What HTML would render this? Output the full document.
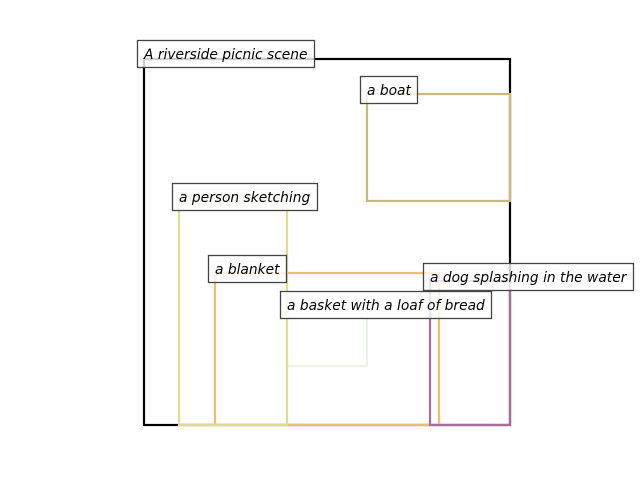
<!DOCTYPE html>
<html><head><style>body{margin:0;background:#fff}svg{display:block}text{font-family:"DejaVu Sans","Liberation Sans",sans-serif;font-style:italic;font-size:13.8px;fill:#000}</style></head>
<body>
<svg width="640" height="480" viewBox="0 0 640 480" xmlns="http://www.w3.org/2000/svg">
<g fill="none" stroke-width="2.2">
<rect x="144" y="59" width="366" height="366" stroke="#000"/>
<rect x="367" y="94" width="143" height="107" stroke="#c8bb78"/>
<rect x="287" y="305" width="80" height="61" stroke="#eaf5e4"/>
<rect x="215" y="273" width="224" height="152" stroke="#f3bd6c"/>
<rect x="179" y="201" width="108" height="224" stroke="#e3dc8c"/>
<rect x="430" y="281" width="80" height="144" stroke="#a86c9c"/>
</g>
<g fill="#fff" fill-opacity="0.8" stroke="#444" stroke-width="1.3">
<rect x="137.5" y="40.5" width="177" height="27"/>
<rect x="360.5" y="76.5" width="57" height="27"/>
<rect x="172.5" y="183.5" width="145" height="27"/>
<rect x="208.5" y="255.5" width="78" height="27"/>
<rect x="423.5" y="263.5" width="210" height="27"/>
<rect x="280.5" y="291.5" width="211" height="27"/>
</g>
<text x="144" y="59">A riverside picnic scene</text>
<text x="367" y="95">a boat</text>
<text x="179" y="202">a person sketching</text>
<text x="215" y="274">a blanket</text>
<text x="430" y="282">a dog splashing in the water</text>
<text x="287" y="310">a basket with a loaf of bread</text>
</svg>
</body></html>
